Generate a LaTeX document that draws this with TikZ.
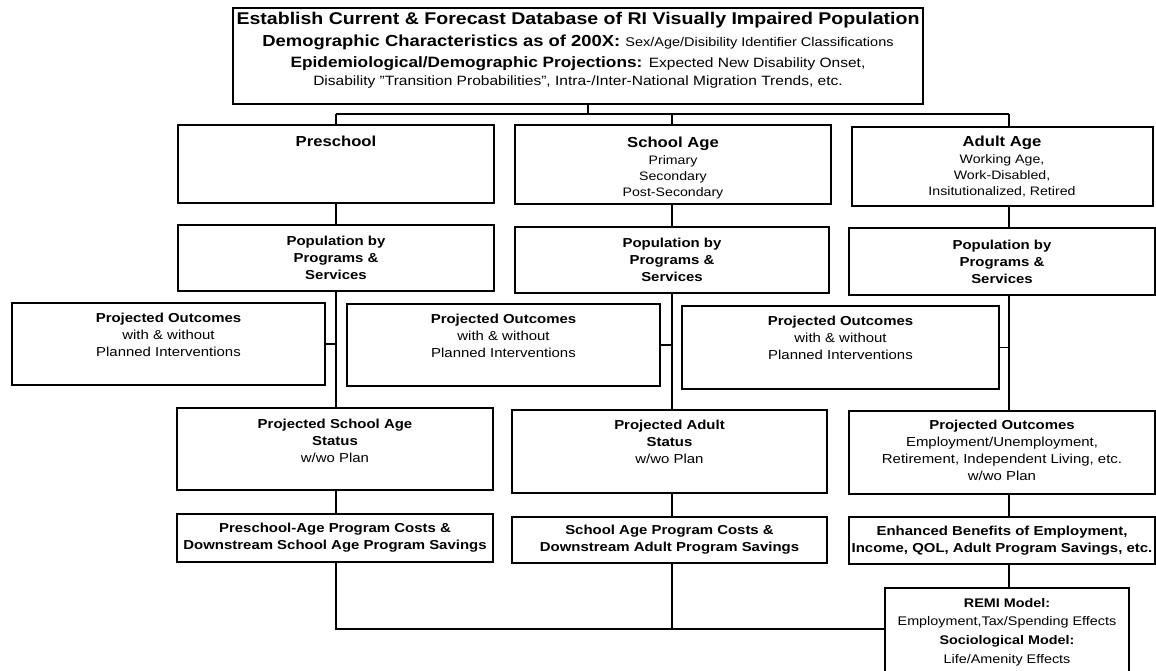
\documentclass[tikz,border=0pt]{standalone}
\usepackage{fontspec}
\setmainfont{Liberation Sans}[FakeStretch=1.15]
\newcommand\fsz[2]{\fontsize{#1}{#2}\selectfont}
\begin{document}
\begin{tikzpicture}[x=1pt,y=-1pt,
  box/.style={draw, line width=1.8pt, inner sep=0pt},
  conn/.style={line width=1.3pt},
  txt/.style={align=center, inner sep=0pt, font=\fsz{13}{17}},
  hdr/.style={align=center, inner sep=0pt, font=\fsz{12.3}{16.3}}]
\useasboundingbox (0,0) rectangle (1156,671);
\clip (0,0) rectangle (1156,671);
% boxes
\node[box, minimum width=690pt, minimum height=96pt] (top) at (578,56) {};
\node[box, minimum width=316pt, minimum height=78pt] (pre) at (336,164) {};
\node[box, minimum width=316pt, minimum height=79pt] (sch) at (673,164.5) {};
\node[box, minimum width=301pt, minimum height=79pt] (adu) at (1002.5,166.5) {};
\node[box, minimum width=316pt, minimum height=66pt] (pop1) at (336,258) {};
\node[box, minimum width=314pt, minimum height=66pt] (pop2) at (672,260) {};
\node[box, minimum width=306pt, minimum height=67pt] (pop3) at (1002,261.5) {};
\node[box, minimum width=313pt, minimum height=82pt] (po1) at (168.5,344) {};
\node[box, minimum width=313pt, minimum height=82pt] (po2) at (503.5,345) {};
\node[box, minimum width=317pt, minimum height=83pt] (po3) at (840.5,347.5) {};
\node[box, minimum width=316pt, minimum height=82pt] (psa) at (335,449) {};
\node[box, minimum width=315pt, minimum height=83pt] (pas) at (669.5,451.5) {};
\node[box, minimum width=306pt, minimum height=83pt] (poa) at (1002,452.5) {};
\node[box, minimum width=316pt, minimum height=48pt] (cost1) at (335,538) {};
\node[box, minimum width=315pt, minimum height=46pt] (cost2) at (669.5,540) {};
\node[box, minimum width=306pt, minimum height=47pt] (enh) at (1002,540.5) {};
\node[box, minimum width=244pt, minimum height=112pt] (remi) at (1007,644) {};
% texts
\node[inner sep=0pt, anchor=base, font=\fsz{17}{20}\bfseries] (topT1) at (578,25)
  {Establish Current \& Forecast Database of RI Visually Impaired Population};
\node[inner sep=0pt, anchor=base] (topT2) at (578,46.4)
  {{\fsz{16}{18}\bfseries Demographic Characteristics as of 200X: }{\fsz{12.6}{18}Sex/Age/Disibility Identifier Classifications}};
\node[inner sep=0pt, anchor=base] (topT3) at (578,67.4)
  {{\fsz{15}{18}\bfseries Epidemiological/Demographic Projections: }{\fsz{13.5}{18}Expected New Disability Onset,}};
\node[inner sep=0pt, anchor=base, font=\fsz{13.5}{18}] (topT4) at (578,85.8)
  {Disability "Transition Probabilities", Intra-/Inter-National Migration Trends, etc.};
\node[inner sep=0pt, anchor=base, font=\fsz{14.5}{16}\bfseries] (preT) at (336,147) {Preschool};
\node[hdr, anchor=north] (schT) at (673,137)
  {{\fsz{14.5}{16.3}\bfseries School Age}\\Primary\\Secondary\\Post-Secondary};
\node[hdr, anchor=north] (aduT) at (1002,136)
  {{\fsz{14.5}{16.3}\bfseries Adult Age}\\Working Age,\\Work-Disabled,\\Insitutionalized, Retired};
\node[txt, font=\fsz{13}{17}\bfseries] (pop1T) at (pop1.center) {Population by\\Programs \&\\Services};
\node[txt, font=\fsz{13}{17}\bfseries] (pop2T) at (pop2.center) {Population by\\Programs \&\\Services};
\node[txt, font=\fsz{13}{17}\bfseries] (pop3T) at (pop3.center) {Population by\\Programs \&\\Services};
\node[txt, anchor=north] (po1T) at (168.5,313) {\textbf{Projected Outcomes}\\with \& without\\Planned Interventions};
\node[txt, anchor=north] (po2T) at (503.5,314) {\textbf{Projected Outcomes}\\with \& without\\Planned Interventions};
\node[txt, anchor=north] (po3T) at (840.5,316) {\textbf{Projected Outcomes}\\with \& without\\Planned Interventions};
\node[txt, anchor=north] (psaT) at (335,419) {\textbf{Projected School Age}\\\textbf{Status}\\w/wo Plan};
\node[txt, anchor=north] (pasT) at (669.5,420) {\textbf{Projected Adult}\\\textbf{Status}\\w/wo Plan};
\node[txt, anchor=north] (poaT) at (1002,420) {\textbf{Projected Outcomes}\\Employment/Unemployment,\\Retirement, Independent Living, etc.\\w/wo Plan};
\node[txt, font=\fsz{13}{17}\bfseries] (cost1T) at (cost1.center) {Preschool-Age Program Costs \&\\Downstream School Age Program Savings};
\node[txt, font=\fsz{13}{17}\bfseries] (cost2T) at (cost2.center) {School Age Program Costs \&\\Downstream Adult Program Savings};
\node[txt, font=\fsz{13}{17}\bfseries] (enhT) at (enh.center) {Enhanced Benefits of Employment,\\Income, QOL, Adult Program Savings, etc.};
\node[txt, anchor=north, font=\fsz{12.5}{18.7}] (remiT) at (1007,598)
  {\textbf{REMI Model:}\\Employment,Tax/Spending Effects\\\textbf{Sociological Model:}\\Life/Amenity Effects};
% connector coordinates
\coordinate (t) at (588,114);
\coordinate (c1) at (336,114);
\coordinate (c2) at (672,114);
\coordinate (c3) at (1009,114);
\coordinate (b1) at (336,629);
\coordinate (b2) at (672,629);
% connectors
\draw[conn] (top.south -| t) -- (t);
\draw[conn] (c1) -- (c3);
\draw[conn] (c1) -- (c1 |- pre.north);
\draw[conn] (c2) -- (c2 |- sch.north);
\draw[conn] (c3) -- (c3 |- adu.north);
\draw[conn] (pre.south -| c1) -- (c1 |- pop1.north);
\draw[conn] (sch.south -| c2) -- (c2 |- pop2.north);
\draw[conn] (adu.south -| c3) -- (c3 |- pop3.north);
\draw[conn] (pop1.south -| c1) -- (c1 |- psa.north);
\draw[conn] (pop2.south -| c2) -- (c2 |- pas.north);
\draw[conn] (pop3.south -| c3) -- (c3 |- poa.north);
\draw[conn] (po1.east) -- (po1.east -| c1);
\draw[conn] (po2.east) -- (po2.east -| c2);
\draw[conn] (po3.east) -- (po3.east -| c3);
\draw[conn] (psa.south -| c1) -- (c1 |- cost1.north);
\draw[conn] (pas.south -| c2) -- (c2 |- cost2.north);
\draw[conn] (poa.south -| c3) -- (c3 |- enh.north);
\draw[conn] (cost1.south -| b1) -- (b1) -- (b1 -| remi.west);
\draw[conn] (cost2.south -| b2) -- (b2);
\draw[conn] (enh.south -| c3) -- (c3 |- remi.north);
\end{tikzpicture}
\end{document}
